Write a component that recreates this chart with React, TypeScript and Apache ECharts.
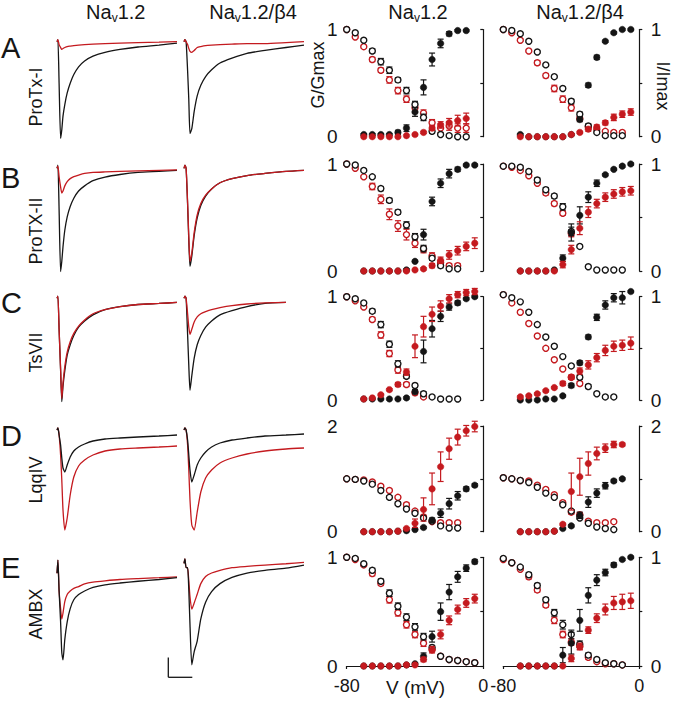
import React, { useEffect, useRef } from "react";
import * as echarts from "echarts";

const FONT = "'Liberation Sans', Arial, Helvetica, sans-serif";
const BLACK = "#151515";
const RED = "#c41a1f";

// ---------- axes / categories ----------
const VOLT_INACT = [-80, -75, -70, -65, -60, -55, -50, -45, -40, -35, -30, -25, -20, -15, -10, -5];
const VOLT_ACT = [-70, -65, -60, -55, -50, -45, -40, -35, -30, -25, -20, -15, -10, -5];
const TRACE_T = [0, 0.15, 0.35, 0.6, 0.8, 1.0, 1.3, 1.7, 2.2, 2.8, 3.6, 4.6, 6, 8, 10.5, 13.5, 17, 20];
const ROW_LETTERS = ["A", "B", "C", "D", "E"];
const TOXINS = ["ProTx-I", "ProTX-II", "TsVII", "LqqIV", "AMBX"];
const Y_MAX = [1, 1, 1, 2, 1];
const X_TICK_MIN = -80;
const X_TICK_MAX = 0;

// ---------- current traces (normalised, baseline 0) ----------
const A_c1_ctl = [0, 0.02, -0.43, -1.0, -0.91, -0.77, -0.65, -0.53, -0.43, -0.34, -0.26, -0.2, -0.15, -0.11, -0.08, -0.055, -0.035, -0.015];
const A_c1_tox = [0, 0.02, -0.03, -0.06, -0.08, -0.07, -0.06, -0.05, -0.045, -0.04, -0.035, -0.03, -0.025, -0.02, -0.015, -0.01, -0.005, 0];
const A_c2_ctl = [0, 0.02, 0, -0.3, -0.6, -0.95, -0.9, -0.72, -0.56, -0.45, -0.36, -0.29, -0.22, -0.17, -0.12, -0.09, -0.06, -0.035];
const A_c2_tox = [0, 0.02, 0, -0.03, -0.07, -0.1, -0.11, -0.09, -0.06, -0.05, -0.04, -0.035, -0.03, -0.025, -0.02, -0.02, -0.01, 0];
const B_c1_ctl = [0, 0.03, -0.4, -1.0, -0.9, -0.76, -0.6, -0.47, -0.37, -0.29, -0.22, -0.17, -0.12, -0.085, -0.06, -0.04, -0.03, -0.02];
const B_c1_tox = [0, 0.02, -0.08, -0.18, -0.24, -0.22, -0.17, -0.13, -0.1, -0.08, -0.065, -0.05, -0.04, -0.035, -0.03, -0.025, -0.02, -0.015];
const B_c2_ctl = [0, 0.03, 0, -0.35, -0.7, -0.95, -0.85, -0.65, -0.48, -0.36, -0.27, -0.2, -0.14, -0.1, -0.07, -0.05, -0.03, -0.02];
const B_c2_tox = [0, 0.03, 0, -0.33, -0.66, -0.9, -0.82, -0.62, -0.45, -0.34, -0.26, -0.2, -0.14, -0.1, -0.07, -0.05, -0.03, -0.02];
const C_c1_ctl = [0, 0.02, -0.3, -0.7, -1.0, -0.85, -0.7, -0.55, -0.45, -0.36, -0.28, -0.22, -0.16, -0.11, -0.08, -0.06, -0.05, -0.04];
const C_c1_tox = [0, 0.02, -0.3, -0.68, -0.97, -0.82, -0.66, -0.52, -0.42, -0.34, -0.27, -0.21, -0.15, -0.11, -0.08, -0.06, -0.05, -0.04];
const C_c2_ctl = [0, 0.02, 0, -0.35, -0.65, -0.89, -0.75, -0.58, -0.45, -0.36, -0.28, -0.22, -0.16, -0.12, -0.08, -0.05, -0.04, null];
const C_c2_tox = [0, 0.02, 0, -0.15, -0.28, -0.35, -0.3, -0.23, -0.18, -0.15, -0.13, -0.11, -0.09, -0.07, -0.055, -0.045, -0.04, null];
const D_c1_ctl = [0, 0.02, -0.05, -0.15, -0.28, -0.38, -0.42, -0.35, -0.27, -0.21, -0.17, -0.14, -0.11, -0.09, -0.08, -0.07, -0.06, -0.05];
const D_c1_tox = [0, 0.02, -0.05, -0.25, -0.5, -0.8, -1.0, -0.88, -0.65, -0.47, -0.36, -0.3, -0.25, -0.21, -0.19, -0.18, -0.17, -0.16];
const D_c2_ctl = [0, 0.02, 0, -0.1, -0.25, -0.4, -0.52, -0.45, -0.35, -0.28, -0.22, -0.17, -0.13, -0.1, -0.08, -0.06, -0.05, -0.04];
const D_c2_tox = [0, 0.02, 0, -0.15, -0.4, -0.7, -0.95, -1.0, -0.82, -0.62, -0.48, -0.4, -0.33, -0.28, -0.24, -0.21, -0.19, -0.18];
const E_c1_ctl = [0, 0.15, -0.2, -0.55, -0.9, -0.98, -0.75, -0.55, -0.4, -0.3, -0.24, -0.2, -0.16, -0.13, -0.11, -0.09, -0.07, -0.05];
const E_c1_tox = [0, 0.15, -0.2, -0.4, -0.52, -0.45, -0.32, -0.24, -0.2, -0.17, -0.15, -0.12, -0.1, -0.085, -0.07, -0.06, -0.05, -0.04];
const E_c2_ctl = [0, 0.05, -0.05, -0.05, -0.3, -0.7, -1.15, -1.0, -0.88, -0.63, -0.44, -0.32, -0.23, -0.16, -0.11, -0.08, -0.055, -0.02];
const E_c2_tox = [0, 0.05, -0.05, -0.05, -0.2, -0.38, -0.52, -0.45, -0.35, -0.23, -0.15, -0.11, -0.08, -0.05, -0.035, -0.02, -0.005, 0.01];

// ---------- I/Imax (open) and G/Gmax (filled); 1 = Nav1.2, 2 = Nav1.2/β4 ----------
const A1_inCtl = [1.0, 0.97, 0.9, 0.8, 0.7, 0.62, 0.53, 0.43, 0.3, 0.18, 0.05, 0.02, 0.01, 0.0, 0.0, null];
const A1_inCtlE = [0, 0.01, 0.01, 0.02, 0.03, 0.03, 0.02, 0.03, 0.03, 0.03, 0.02, 0.01, 0.01, 0.01, 0.01, null];
const A1_inTox = [1.0, 0.93, 0.84, 0.72, 0.62, 0.53, 0.43, 0.35, 0.27, 0.22, 0.13, 0.08, 0.1, 0.08, 0.08, null];
const A1_inToxE = [0, 0.01, 0.01, 0.02, 0.02, 0.03, 0.03, 0.03, 0.03, 0.03, 0.03, 0.04, 0.04, 0.04, 0.04, null];
const A1_acCtl = [0.02, 0.02, 0.02, 0.02, 0.04, 0.08, 0.23, 0.46, 0.72, 0.87, 0.96, 0.99, 0.99, null];
const A1_acCtlE = [0.01, 0.01, 0.01, 0.01, 0.02, 0.03, 0.04, 0.07, 0.06, 0.04, 0.02, 0.01, 0.01, null];
const A1_acTox = [0, 0, 0, 0, 0, 0.01, 0.02, 0.04, 0.08, 0.11, 0.13, 0.15, 0.17, null];
const A1_acToxE = [0, 0, 0, 0, 0, 0, 0.01, 0.01, 0.02, 0.03, 0.04, 0.05, 0.05, null];

const A2_inCtl = [1.0, 0.99, 0.96, 0.89, 0.79, 0.67, 0.56, 0.45, 0.33, 0.21, 0.1, 0.04, 0.01, 0.01, 0.01, null];
const A2_inCtlE = [0, 0, 0.01, 0.01, 0.01, 0.01, 0.01, 0.01, 0.02, 0.02, 0.02, 0.01, 0.01, 0.01, 0.01, null];
const A2_inTox = [1.0, 0.97, 0.9, 0.8, 0.69, 0.57, 0.45, 0.35, 0.27, 0.17, 0.09, 0.07, 0.05, 0.04, 0.04, null];
const A2_inToxE = [0, 0.01, 0.01, 0.01, 0.02, 0.02, 0.03, 0.03, 0.03, 0.02, 0.02, 0.02, 0.01, 0.01, 0.01, null];
const A2_acCtl = [0.02, 0, 0, 0, 0, 0, 0.02, 0.16, 0.48, 0.74, 0.89, 0.97, 1.0, 1.0];
const A2_acCtlE = [0.01, 0, 0, 0, 0, 0, 0.01, 0.02, 0.02, 0.02, 0.01, 0.01, 0.01, 0.01];
const A2_acTox = [0, 0, 0, 0, 0, 0, 0.02, 0.04, 0.07, 0.09, 0.13, 0.18, 0.21, 0.23];
const A2_acToxE = [0, 0, 0, 0, 0, 0, 0.01, 0.01, 0.02, 0.02, 0.02, 0.03, 0.03, 0.03];

const B1_inCtl = [1.0, 0.99, 0.94, 0.88, 0.77, 0.66, 0.55, 0.43, 0.32, 0.21, 0.12, 0.05, 0.02, 0.02, null, null];
const B1_inCtlE = [0, 0.01, 0.01, 0.01, 0.02, 0.02, 0.02, 0.03, 0.03, 0.03, 0.02, 0.02, 0.01, 0.01, null, null];
const B1_inTox = [1.0, 0.96, 0.88, 0.79, 0.67, 0.53, 0.42, 0.34, 0.26, 0.2, 0.14, 0.08, 0.05, 0.05, null, null];
const B1_inToxE = [0, 0.01, 0.01, 0.03, 0.04, 0.05, 0.05, 0.05, 0.04, 0.03, 0.03, 0.02, 0.02, 0.02, null, null];
const B1_acCtl = [0, 0, 0, 0, 0, 0.01, 0.09, 0.34, 0.65, 0.82, 0.91, 0.95, 0.99, 0.99];
const B1_acCtlE = [0, 0, 0, 0, 0, 0.01, 0.01, 0.05, 0.04, 0.04, 0.04, 0.02, 0.01, 0.01];
const B1_acTox = [0, 0, 0, 0, 0, 0, 0.01, 0.02, 0.05, 0.1, 0.15, 0.19, 0.23, 0.26];
const B1_acToxE = [0, 0, 0, 0, 0, 0, 0, 0.01, 0.02, 0.03, 0.04, 0.04, 0.04, 0.05];

const B2_inCtl = [0.98, 0.98, 0.97, 0.93, 0.85, 0.76, 0.7, 0.6, 0.37, 0.23, 0.04, 0.01, 0.01, 0.01, 0.01, null];
const B2_inCtlE = [0, 0, 0.01, 0.01, 0.02, 0.02, 0.02, 0.03, 0.04, 0.01, 0.01, 0, 0, 0, 0, null];
const B2_inTox = [0.98, 0.97, 0.94, 0.89, 0.82, 0.73, 0.63, 0.54, 0.35, null, null, null, null, null, null, null];
const B2_inToxE = [0, 0, 0.01, 0.01, 0.01, 0.02, 0.02, 0.02, 0.03, null, null, null, null, null, null, null];
const B2_acCtl = [0, 0, 0, 0, 0.01, 0.12, 0.36, 0.52, 0.69, 0.82, 0.9, 0.95, 0.98, 1.0];
const B2_acCtlE = [0, 0, 0, 0, 0, 0.03, 0.08, 0.08, 0.05, 0.03, 0.01, 0.01, 0.01, 0.01];
const B2_acTox = [0, 0, 0, 0, 0, 0.06, 0.2, 0.4, 0.55, 0.63, 0.69, 0.72, 0.74, 0.75];
const B2_acToxE = [0, 0, 0, 0, 0, 0.03, 0.04, 0.06, 0.05, 0.04, 0.04, 0.04, 0.04, 0.04];

const C1_inCtl = [1.0, 0.98, 0.94, 0.86, 0.73, 0.54, 0.35, 0.23, 0.14, 0.06, 0.03, 0.01, 0.01, 0.01, null, null];
const C1_inCtlE = [0, 0.01, 0.01, 0.02, 0.03, 0.03, 0.03, 0.02, 0.02, 0.02, 0.01, 0.01, 0, 0, null, null];
const C1_inTox = [1.0, 0.96, 0.9, 0.78, 0.63, 0.45, 0.29, 0.15, 0.07, 0.03, null, null, null, null, null, null];
const C1_inToxE = [0, 0.01, 0.01, 0.02, 0.03, 0.03, 0.03, 0.02, 0.02, 0.01, null, null, null, null, null, null];
const C1_acCtl = [0.01, 0.01, 0.01, 0.01, 0.01, 0.02, 0.08, 0.47, 0.69, 0.81, 0.9, 0.94, 0.98, 1.0];
const C1_acCtlE = [0, 0, 0, 0, 0, 0.01, 0.02, 0.11, 0.08, 0.05, 0.03, 0.02, 0.01, 0.01];
const C1_acTox = [0.01, 0.02, 0.05, 0.1, 0.15, 0.27, 0.52, 0.71, 0.83, 0.91, 0.98, 1.02, 1.04, 1.05];
const C1_acToxE = [0, 0, 0.01, 0.01, 0.02, 0.03, 0.11, 0.1, 0.07, 0.05, 0.04, 0.03, 0.03, 0.03];

const C2_inCtl = [1.02, 0.99, 0.95, 0.85, 0.73, 0.61, 0.52, 0.42, 0.33, 0.22, 0.13, 0.06, 0.03, 0.03, null, null];
const C2_inCtlE = [0, 0, 0, 0.01, 0.01, 0.01, 0.01, 0.01, 0.01, 0.02, 0.02, 0.01, 0.01, 0.01, null, null];
const C2_inTox = [1.02, 0.94, 0.85, 0.74, 0.62, 0.5, 0.39, 0.3, 0.22, 0.16, null, null, null, null, null, null];
const C2_inToxE = [0, 0, 0.01, 0.01, 0.01, 0.01, 0.01, 0.01, 0.02, 0.02, null, null, null, null, null, null];
const C2_acCtl = [0, 0, 0, 0.01, 0.01, 0.04, 0.14, 0.36, 0.61, 0.8, 0.92, 0.99, 0.99, 1.05];
const C2_acCtlE = [0, 0, 0, 0, 0, 0.01, 0.02, 0.02, 0.02, 0.03, 0.04, 0.04, 0.06, 0.01];
const C2_acTox = [0.03, 0.04, 0.06, 0.09, 0.12, 0.16, 0.22, 0.28, 0.34, 0.41, 0.48, 0.52, 0.53, 0.55];
const C2_acToxE = [0.01, 0.01, 0.01, 0.01, 0.01, 0.02, 0.02, 0.03, 0.04, 0.04, 0.05, 0.05, 0.05, 0.06];

const D1_inCtl = [1.0, 0.99, 0.96, 0.9, 0.78, 0.65, 0.53, 0.43, 0.35, 0.26, 0.2, 0.11, 0.07, 0.07, null, null];
const D1_inCtlE = [0, 0, 0.01, 0.02, 0.03, 0.03, 0.03, 0.02, 0.02, 0.02, 0.02, 0.02, 0.02, 0.02, null, null];
const D1_inTox = [1.0, 0.99, 0.98, 0.94, 0.86, 0.78, 0.65, 0.51, 0.39, 0.28, 0.19, 0.17, 0.17, 0.17, null, null];
const D1_inToxE = [0, 0, 0.01, 0.02, 0.02, 0.02, 0.03, 0.03, 0.03, 0.03, 0.02, 0.02, 0.02, 0.02, null, null];
const D1_acCtl = [0, 0, 0, 0, 0.01, 0.02, 0.04, 0.08, 0.22, 0.35, 0.53, 0.68, 0.81, 0.88];
const D1_acCtlE = [0, 0, 0, 0, 0, 0.01, 0.01, 0.02, 0.04, 0.08, 0.1, 0.08, 0.04, 0.03];
const D1_acTox = [0, 0, 0, 0, 0.01, 0.06, 0.16, 0.42, 0.81, 1.23, 1.57, 1.79, 1.91, 1.99];
const D1_acToxE = [0, 0, 0, 0, 0.01, 0.02, 0.08, 0.22, 0.3, 0.28, 0.2, 0.15, 0.1, 0.1];

const D2_inCtl = [1.02, 1.0, 0.97, 0.93, 0.84, 0.73, 0.65, 0.51, 0.39, 0.26, 0.16, 0.09, 0.06, 0.04, null, null];
const D2_inCtlE = [0, 0, 0.01, 0.01, 0.02, 0.02, 0.02, 0.02, 0.03, 0.03, 0.02, 0.02, 0.02, 0.02, null, null];
const D2_inTox = [1.02, 1.0, 0.97, 0.96, 0.88, 0.8, 0.7, 0.55, 0.37, 0.32, 0.2, 0.17, 0.17, 0.19, null, null];
const D2_inToxE = [0, 0, 0.01, 0.01, 0.02, 0.02, 0.02, 0.03, 0.04, 0.04, 0.03, 0.02, 0.02, 0.02, null, null];
const D2_acCtl = [0, 0, 0, 0, 0.01, 0.06, 0.11, 0.31, 0.56, 0.73, 0.87, 0.96, 1.0, null];
const D2_acCtlE = [0, 0, 0, 0, 0, 0.01, 0.02, 0.06, 0.1, 0.08, 0.06, 0.03, 0.02, null];
const D2_acTox = [0, 0, 0, 0, 0.01, 0.14, 0.76, 1.04, 1.29, 1.48, 1.58, 1.65, 1.65, null];
const D2_acToxE = [0, 0, 0, 0, 0, 0.02, 0.35, 0.35, 0.22, 0.12, 0.08, 0.06, 0.03, null];

const E1_inCtl = [1.0, 0.99, 0.94, 0.88, 0.78, 0.67, 0.55, 0.45, 0.36, 0.27, 0.17, 0.09, 0.06, 0.05, 0.04, 0.03];
const E1_inCtlE = [0, 0.01, 0.01, 0.02, 0.02, 0.03, 0.03, 0.03, 0.03, 0.03, 0.02, 0.01, 0.01, 0.01, 0.01, 0.01];
const E1_inTox = [1.0, 0.98, 0.93, 0.85, 0.76, 0.61, 0.49, 0.38, 0.29, 0.21, 0.15, 0.09, 0.06, 0.05, 0.04, 0.03];
const E1_inToxE = [0, 0.01, 0.01, 0.02, 0.02, 0.03, 0.03, 0.03, 0.03, 0.03, 0.02, 0.01, 0.01, 0.01, 0.01, 0.01];
const E1_acCtl = [0, 0, 0, 0, 0, 0.01, 0.02, 0.09, 0.27, 0.5, 0.68, 0.82, 0.9, 0.96];
const E1_acCtlE = [0, 0, 0, 0, 0, 0, 0.01, 0.03, 0.05, 0.08, 0.07, 0.05, 0.03, 0.02];
const E1_acTox = [0, 0, 0, 0, 0, 0.01, 0.01, 0.06, 0.15, 0.29, 0.42, 0.52, 0.58, 0.62];
const E1_acToxE = [0, 0, 0, 0, 0, 0, 0.01, 0.02, 0.03, 0.04, 0.04, 0.04, 0.04, 0.04];

const E2_inCtl = [0.99, 0.95, 0.91, 0.84, 0.74, 0.61, 0.49, 0.38, 0.29, 0.2, 0.1, 0.06, 0.03, 0.02, 0.01, null];
const E2_inCtlE = [0, 0.01, 0.01, 0.02, 0.02, 0.02, 0.03, 0.04, 0.04, 0.03, 0.02, 0.01, 0.01, 0.01, 0.01, null];
const E2_inTox = [0.98, 0.95, 0.89, 0.82, 0.7, 0.56, 0.42, 0.29, 0.22, 0.18, 0.08, 0.04, 0.02, 0.02, 0.01, null];
const E2_inToxE = [0, 0.01, 0.01, 0.02, 0.02, 0.02, 0.03, 0.03, 0.03, 0.03, 0.02, 0.01, 0.01, 0.01, 0.01, null];
const E2_acCtl = [0, 0, 0, 0, 0, 0.1, 0.21, 0.42, 0.65, 0.79, 0.86, 0.93, 0.98, 1.0];
const E2_acCtlE = [0, 0, 0, 0, 0, 0.07, 0.1, 0.1, 0.07, 0.05, 0.03, 0.02, 0.01, 0.01];
const E2_acTox = [0, 0, 0, 0, 0, 0, 0.07, 0.18, 0.33, 0.44, 0.52, 0.58, 0.59, 0.6];
const E2_acToxE = [0, 0, 0, 0, 0, 0, 0.03, 0.03, 0.03, 0.04, 0.05, 0.06, 0.07, 0.07];

// ---------- tables built from the arrays ----------
const TRACES = [
  [[A_c1_ctl, A_c1_tox], [A_c2_ctl, A_c2_tox]],
  [[B_c1_ctl, B_c1_tox], [B_c2_ctl, B_c2_tox]],
  [[C_c1_ctl, C_c1_tox], [C_c2_ctl, C_c2_tox]],
  [[D_c1_ctl, D_c1_tox], [D_c2_ctl, D_c2_tox]],
  [[E_c1_ctl, E_c1_tox], [E_c2_ctl, E_c2_tox]],
];
const mk = (a: any[]) => ({ inCtl: a[0], inCtlE: a[1], inTox: a[2], inToxE: a[3], acCtl: a[4], acCtlE: a[5], acTox: a[6], acToxE: a[7] });
const PANELS = [
  [mk([A1_inCtl, A1_inCtlE, A1_inTox, A1_inToxE, A1_acCtl, A1_acCtlE, A1_acTox, A1_acToxE]), mk([A2_inCtl, A2_inCtlE, A2_inTox, A2_inToxE, A2_acCtl, A2_acCtlE, A2_acTox, A2_acToxE])],
  [mk([B1_inCtl, B1_inCtlE, B1_inTox, B1_inToxE, B1_acCtl, B1_acCtlE, B1_acTox, B1_acToxE]), mk([B2_inCtl, B2_inCtlE, B2_inTox, B2_inToxE, B2_acCtl, B2_acCtlE, B2_acTox, B2_acToxE])],
  [mk([C1_inCtl, C1_inCtlE, C1_inTox, C1_inToxE, C1_acCtl, C1_acCtlE, C1_acTox, C1_acToxE]), mk([C2_inCtl, C2_inCtlE, C2_inTox, C2_inToxE, C2_acCtl, C2_acCtlE, C2_acTox, C2_acToxE])],
  [mk([D1_inCtl, D1_inCtlE, D1_inTox, D1_inToxE, D1_acCtl, D1_acCtlE, D1_acTox, D1_acToxE]), mk([D2_inCtl, D2_inCtlE, D2_inTox, D2_inToxE, D2_acCtl, D2_acCtlE, D2_acTox, D2_acToxE])],
  [mk([E1_inCtl, E1_inCtlE, E1_inTox, E1_inToxE, E1_acCtl, E1_acCtlE, E1_acTox, E1_acToxE]), mk([E2_inCtl, E2_inCtlE, E2_inTox, E2_inToxE, E2_acCtl, E2_acCtlE, E2_acTox, E2_acToxE])],
];

// ---------- layout (pixels) ----------
const TR_LEFT = [57, 184];
const TR_W = 120;
const TR_BASE = [[41.7, 41.7], [168.3, 168.3], [298.3, 298.3], [430, 430], [573.3, 563.3]];
const TR_SCALE = [96.7, 103.3, 103.3, 100, 88.3];
const SC_LEFT = [346.7, 503.3];
const SC_W = [136.6, 136];
const SC_TOP = [29.5, 164, 296.7, 426, 557.3];
const SC_BOT = [136.7, 271, 400, 531.7, 666];
const TITLE_X = [115.8, 253, 418, 580];
const LETTER_Y = [48, 178, 303, 436, 568];
const TOXIN_Y = [97, 231, 352.5, 480, 614];

function pairs(xs: number[], ys: (number | null)[]) {
  const out: number[][] = [];
  ys.forEach((y, i) => {
    if (y !== null && y !== undefined) out.push([xs[i], y]);
  });
  return out;
}
function triples(xs: number[], ys: (number | null)[], es: (number | null)[]) {
  const out: number[][] = [];
  ys.forEach((y, i) => {
    if (y !== null && y !== undefined) out.push([xs[i], y, es[i] || 0]);
  });
  return out;
}

function errSeries(idx: number, data: number[][], color: string, z: number) {
  return {
    type: "custom",
    xAxisIndex: idx,
    yAxisIndex: idx,
    z,
    silent: true,
    data,
    renderItem: (_p: any, api: any) => {
      const x = api.value(0);
      const y = api.value(1);
      const e = api.value(2);
      if (!e || e < 0.006) return null;
      const hi = api.coord([x, y + e]);
      const lo = api.coord([x, y - e]);
      const cw = 3;
      const st = { stroke: color, lineWidth: 1.2 };
      return {
        type: "group",
        children: [
          { type: "line", shape: { x1: hi[0], y1: hi[1], x2: lo[0], y2: lo[1] }, style: st },
          { type: "line", shape: { x1: hi[0] - cw, y1: hi[1], x2: hi[0] + cw, y2: hi[1] }, style: st },
          { type: "line", shape: { x1: lo[0] - cw, y1: lo[1], x2: lo[0] + cw, y2: lo[1] }, style: st },
        ],
      };
    },
  };
}

function dotSeries(idx: number, data: number[][], color: string, open: boolean, z: number) {
  return {
    type: "scatter",
    xAxisIndex: idx,
    yAxisIndex: idx,
    z,
    clip: false,
    silent: true,
    symbol: "circle",
    symbolSize: open ? 6 : 6.5,
    itemStyle: open
      ? { color: "#ffffff", borderColor: color, borderWidth: 1.4, opacity: 1 }
      : { color, borderColor: color, borderWidth: 0.5, opacity: 1 },
    data,
  };
}

function buildOption() {
  const grid: any[] = [];
  const xAxis: any[] = [];
  const yAxis: any[] = [];
  const series: any[] = [];
  const graphic: any[] = [];

  for (let r = 0; r < 5; r++) {
    // current traces
    for (let c = 0; c < 2; c++) {
      const idx = grid.length;
      const S = TR_SCALE[r];
      const base = TR_BASE[r][c];
      grid.push({ left: TR_LEFT[c], top: base - 0.2 * S, width: TR_W, height: 1.4 * S });
      xAxis.push({ gridIndex: idx, type: "value", min: 0, max: 20, show: false });
      yAxis.push({ gridIndex: idx, type: "value", min: -1.2, max: 0.2, show: false });
      const [ctl, tox] = TRACES[r][c];
      const lineOf = (arr: (number | null)[], color: string, z: number) => ({
        type: "line",
        xAxisIndex: idx,
        yAxisIndex: idx,
        z,
        silent: true,
        showSymbol: false,
        smooth: 0.2,
        connectNulls: false,
        lineStyle: { color, width: 1.3 },
        data: pairs(TRACE_T, arr),
      });
      if (r >= 3) {
        series.push(lineOf(tox, RED, 2), lineOf(ctl, BLACK, 3));
      } else {
        series.push(lineOf(ctl, BLACK, 2), lineOf(tox, RED, 3));
      }
    }
    // G/Gmax & I/Imax panels
    for (let c = 0; c < 2; c++) {
      const idx = grid.length;
      const yMax = Y_MAX[r];
      grid.push({ left: SC_LEFT[c], top: SC_TOP[r], width: SC_W[c], height: SC_BOT[r] - SC_TOP[r] });
      const bottomRow = r === 4;
      xAxis.push({
        gridIndex: idx,
        type: "value",
        min: X_TICK_MIN,
        max: X_TICK_MAX,
        interval: X_TICK_MAX - X_TICK_MIN,
        show: bottomRow,
        offset: 7,
        axisLine: { show: true, lineStyle: { color: BLACK, width: 1.2 } },
        axisTick: { show: true, length: 3, lineStyle: { color: BLACK, width: 1.2 } },
        axisLabel: { fontSize: 18, fontFamily: FONT, color: BLACK, margin: 4 },
        splitLine: { show: false },
      });
      yAxis.push({
        gridIndex: idx,
        type: "value",
        min: 0,
        max: yMax,
        interval: yMax / 2,
        position: c === 0 ? "left" : "right",
        offset: c === 0 ? 5 : 7.4,
        axisLine: { show: true, lineStyle: { color: BLACK, width: 1.2 } },
        axisTick: { show: true, length: 3, lineStyle: { color: BLACK, width: 1.2 } },
        axisLabel: {
          fontSize: 19,
          fontFamily: FONT,
          color: BLACK,
          margin: 4,
          formatter: (v: number) => (v === 0 || v === yMax ? String(v) : ""),
        },
        splitLine: { show: false },
      });
      const p = PANELS[r][c];
      series.push(
        errSeries(idx, triples(VOLT_INACT, p.inTox, p.inToxE), RED, 2),
        dotSeries(idx, pairs(VOLT_INACT, p.inTox), RED, true, 3),
        errSeries(idx, triples(VOLT_INACT, p.inCtl, p.inCtlE), BLACK, 4),
        dotSeries(idx, pairs(VOLT_INACT, p.inCtl), BLACK, true, 5),
        errSeries(idx, triples(VOLT_ACT, p.acCtl, p.acCtlE), BLACK, 6),
        dotSeries(idx, pairs(VOLT_ACT, p.acCtl), BLACK, false, 7),
        errSeries(idx, triples(VOLT_ACT, p.acTox, p.acToxE), RED, 8),
        dotSeries(idx, pairs(VOLT_ACT, p.acTox), RED, false, 9)
      );
    }
  }

  // column titles
  const titles = ["{n|Na}{s|v}{n|1.2}", "{n|Na}{s|v}{n|1.2/β4}", "{n|Na}{s|v}{n|1.2}", "{n|Na}{s|v}{n|1.2/β4}"];
  titles.forEach((t, i) => {
    graphic.push({
      type: "text",
      x: TITLE_X[i],
      y: 11.7,
      silent: true,
      style: {
        text: t,
        align: "center",
        verticalAlign: "middle",
        fill: BLACK,
        rich: {
          n: { fontSize: 20, fontFamily: FONT, fill: BLACK },
          s: { fontSize: 12, fontFamily: FONT, fill: BLACK, padding: [13, 0, 0, 0] },
        },
      },
    });
  });
  ROW_LETTERS.forEach((l, r) => {
    graphic.push({
      type: "text",
      x: 1,
      y: LETTER_Y[r],
      silent: true,
      style: { text: l, fontSize: 29, fontFamily: FONT, fill: BLACK, align: "left", verticalAlign: "middle" },
    });
  });
  TOXINS.forEach((t, r) => {
    graphic.push({
      type: "text",
      x: 36,
      y: TOXIN_Y[r],
      rotation: Math.PI / 2,
      silent: true,
      style: { text: t, fontSize: 18, fontFamily: FONT, fill: BLACK, align: "center", verticalAlign: "middle" },
    });
  });
  graphic.push(
    {
      type: "text",
      x: 318,
      y: 75,
      rotation: Math.PI / 2,
      silent: true,
      style: { text: "G/Gmax", fontSize: 18, fontFamily: FONT, fill: BLACK, align: "center", verticalAlign: "middle" },
    },
    {
      type: "text",
      x: 663,
      y: 86,
      rotation: -Math.PI / 2,
      silent: true,
      style: { text: "I/Imax", fontSize: 18, fontFamily: FONT, fill: BLACK, align: "center", verticalAlign: "middle" },
    },
    {
      type: "text",
      x: 415.5,
      y: 687,
      silent: true,
      style: { text: "V (mV)", fontSize: 19, fontFamily: FONT, fill: BLACK, align: "center", verticalAlign: "middle" },
    },
    {
      type: "line",
      silent: true,
      shape: { x1: 168.3, y1: 657.5, x2: 168.3, y2: 677.3 },
      style: { stroke: BLACK, lineWidth: 1.3 },
    },
    {
      type: "line",
      silent: true,
      shape: { x1: 168.3, y1: 677.3, x2: 192.3, y2: 677.3 },
      style: { stroke: BLACK, lineWidth: 1.3 },
    }
  );

  return {
    animation: false,
    backgroundColor: "#ffffff",
    textStyle: { fontFamily: FONT },
    grid,
    xAxis,
    yAxis,
    series,
    graphic,
  };
}

export default function App() {
  const ref = useRef<HTMLDivElement>(null);
  useEffect(() => {
    const el = ref.current;
    if (!el) return;
    const chart = echarts.init(el, null, { renderer: "svg", width: 677, height: 703 });
    chart.setOption(buildOption() as any);
    return () => chart.dispose();
  }, []);
  return (
    <div
      ref={ref}
      style={{ position: "absolute", left: 0, top: 0, width: 677, height: 703, background: "#ffffff" }}
    />
  );
}
